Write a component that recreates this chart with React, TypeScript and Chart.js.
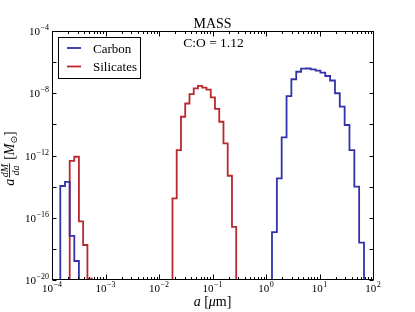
import React, { useEffect, useRef } from 'react';
import { Chart, registerables } from 'chart.js';

Chart.register(...registerables);

// ---- axis ranges ----
const X_MIN = 1e-4;
const X_MAX = 1e2;
const Y_MIN = 1e-20;
const Y_MAX = 1e-4;

// ---- tick exponents ----
const xTickExponents = [-4, -3, -2, -1, 0, 1, 2];
const yTickExponents = [-20, -18, -16, -14, -12, -10, -8, -6, -4];
const yLabelExponents = [-20, -16, -12, -8, -4];

// ---- data: bin edges (log10 a [um]) and values (log10 a dM/da [Msun]) ----
const carbonSmallEdgesLog = [-3.845, -3.757, -3.669, -3.583, -3.497];
const carbonSmallValuesLog = [-13.96, -13.7, -17.16, -18.78];

const silicateSmallEdgesLog = [-3.669, -3.583, -3.497, -3.418, -3.338, -3.258];
const silicateSmallValuesLog = [-12.34, -12.08, -16.23, -17.75, -19.92];

const silicateLargeEdgesLog = [
  -1.748, -1.669, -1.589, -1.51, -1.43, -1.351, -1.272, -1.192, -1.113, -1.033,
  -0.954, -0.874, -0.795, -0.716, -0.636, -0.557,
];
const silicateLargeValuesLog = [
  -14.75, -11.65, -9.51, -8.66, -8.05, -7.69, -7.53, -7.64, -7.77, -8.26, -9.01,
  -9.83, -11.22, -13.3, -16.58,
];

const carbonLargeEdgesLog = [
  0.112, 0.203, 0.293, 0.384, 0.474, 0.565, 0.655, 0.746, 0.836, 0.927, 1.017,
  1.108, 1.198, 1.289, 1.379, 1.47, 1.56, 1.651, 1.741, 1.832,
];
const carbonLargeValuesLog = [
  -16.93, -13.47, -10.83, -8.18, -7.1, -6.62, -6.42, -6.41, -6.47, -6.54, -6.67,
  -6.89, -7.18, -8.0, -8.86, -10.04, -11.65, -14.0, -17.6,
];

const seriesNames = ['Carbon', 'Silicates'];
const BLUE = '#3232aa';
const RED = '#b8282d';

const TITLE = 'MASS';
const NOTE = 'C:O = 1.12';

const SERIF = '"Liberation Serif", "DejaVu Serif", serif';

function toSteps(edgesLog: number[], valuesLog: number[]) {
  const pts: { x: number; y: number }[] = [];
  pts.push({ x: Math.pow(10, edgesLog[0]), y: Y_MIN });
  for (let i = 0; i < valuesLog.length; i++) {
    pts.push({ x: Math.pow(10, edgesLog[i]), y: Math.pow(10, valuesLog[i]) });
  }
  pts.push({ x: Math.pow(10, edgesLog[edgesLog.length - 1]), y: Y_MIN });
  return pts;
}

function expText(e: number) {
  return e < 0 ? '\u2212' + Math.abs(e) : String(e);
}

function drawPower(
  ctx: CanvasRenderingContext2D,
  x: number,
  baseline: number,
  align: 'center' | 'right',
  e: number
) {
  const baseFont = `11px ${SERIF}`;
  const expFont = `8px ${SERIF}`;
  ctx.font = baseFont;
  const wb = ctx.measureText('10').width;
  ctx.font = expFont;
  const es = expText(e);
  const we = ctx.measureText(es).width;
  const w = wb + we + 0.5;
  const sx = align === 'center' ? x - w / 2 : x - w;
  ctx.textAlign = 'left';
  ctx.textBaseline = 'alphabetic';
  ctx.font = baseFont;
  ctx.fillText('10', sx, baseline);
  ctx.font = expFont;
  ctx.fillText(es, sx + wb + 0.5, baseline - 5);
}

const decorPlugin = {
  id: 'decor',
  afterDatasetsDraw(chart: any) {
    const ctx: CanvasRenderingContext2D = chart.ctx;
    const a = chart.chartArea;
    const xs = chart.scales.x;
    const ys = chart.scales.y;
    ctx.save();
    ctx.fillStyle = '#000';
    ctx.strokeStyle = '#000';

    const L = Math.round(a.left) + 0.5;
    const R = Math.round(a.right) + 0.5;
    const T = Math.round(a.top) + 0.5;
    const B = Math.round(a.bottom) - 0.5;

    // frame
    ctx.lineWidth = 1;
    ctx.strokeRect(L, T, R - L, B - T);

    // x ticks (major + minor), inward, top & bottom
    ctx.beginPath();
    for (const e of xTickExponents) {
      const px = Math.round(xs.getPixelForValue(Math.pow(10, e))) + 0.5;
      ctx.moveTo(px, B);
      ctx.lineTo(px, B - 5);
      ctx.moveTo(px, T);
      ctx.lineTo(px, T + 5);
      if (e < xTickExponents[xTickExponents.length - 1]) {
        for (let m = 2; m <= 9; m++) {
          const mx = Math.round(xs.getPixelForValue(m * Math.pow(10, e))) + 0.5;
          ctx.moveTo(mx, B);
          ctx.lineTo(mx, B - 2.5);
          ctx.moveTo(mx, T);
          ctx.lineTo(mx, T + 2.5);
        }
      }
    }
    // y ticks, inward, left & right
    for (const e of yTickExponents) {
      const py = Math.round(ys.getPixelForValue(Math.pow(10, e))) + 0.5;
      ctx.moveTo(L, py);
      ctx.lineTo(L + 4, py);
      ctx.moveTo(R, py);
      ctx.lineTo(R - 4, py);
    }
    ctx.stroke();

    // tick labels
    for (const e of xTickExponents) {
      const px = xs.getPixelForValue(Math.pow(10, e));
      drawPower(ctx, px, a.bottom + 11.5, 'center', e);
    }
    for (const e of yLabelExponents) {
      const py = ys.getPixelForValue(Math.pow(10, e));
      drawPower(ctx, a.left - 3, py + 4, 'right', e);
    }

    // title and note
    const cx = (a.left + a.right) / 2;
    ctx.textAlign = 'center';
    ctx.textBaseline = 'alphabetic';
    ctx.font = `14px ${SERIF}`;
    ctx.fillText(TITLE, cx, a.top - 3.5);
    ctx.font = `13.5px ${SERIF}`;
    ctx.fillText(NOTE, cx + 1, a.top + 16);

    // x axis label: a [μm]
    {
      const parts = [
        { t: 'a', f: `italic 14px ${SERIF}` },
        { t: ' [', f: `14px ${SERIF}` },
        { t: '\u03bc', f: `italic 14px ${SERIF}` },
        { t: 'm]', f: `14px ${SERIF}` },
      ];
      let tw = 0;
      for (const p of parts) {
        ctx.font = p.f;
        tw += ctx.measureText(p.t).width;
      }
      let x0 = cx - tw / 2;
      const by = a.bottom + 26;
      ctx.textAlign = 'left';
      for (const p of parts) {
        ctx.font = p.f;
        ctx.fillText(p.t, x0, by);
        x0 += ctx.measureText(p.t).width;
      }
    }

    // y axis label: a dM/da [M⊙]
    {
      ctx.save();
      const cy = (a.top + a.bottom) / 2 + 3;
      ctx.translate(14, cy);
      ctx.rotate(-Math.PI / 2);
      ctx.textAlign = 'left';
      const fA = `italic 14px ${SERIF}`;
      const fFrac = `italic 10px ${SERIF}`;
      const fR = `14px ${SERIF}`;
      const fSub = `9px "DejaVu Sans", sans-serif`;
      ctx.font = fA;
      const wa = ctx.measureText('a').width;
      ctx.font = fFrac;
      const wn = ctx.measureText('dM').width;
      const wd = ctx.measureText('da').width;
      const wf = Math.max(wn, wd) + 1;
      ctx.font = fR;
      const wb1 = ctx.measureText(' [').width;
      ctx.font = fA;
      const wm = ctx.measureText('M').width;
      ctx.font = fSub;
      const wsun = ctx.measureText('\u2299').width;
      ctx.font = fR;
      const wb2 = ctx.measureText(']').width;
      const total = wa + 1 + wf + wb1 + wm + wsun + wb2;
      let x0 = -total / 2;
      const by = 0;
      ctx.font = fA;
      ctx.fillText('a', x0, by);
      x0 += wa + 1;
      ctx.font = fFrac;
      ctx.fillText('dM', x0 + (wf - wn) / 2, by - 6.5);
      ctx.fillText('da', x0 + (wf - wd) / 2, by + 4.5);
      ctx.fillRect(x0, by - 5, wf, 0.8);
      x0 += wf;
      ctx.font = fR;
      ctx.fillText(' [', x0, by);
      x0 += wb1;
      ctx.font = fA;
      ctx.fillText('M', x0, by);
      x0 += wm;
      ctx.font = fSub;
      ctx.fillText('\u2299', x0, by + 3);
      x0 += wsun;
      ctx.font = fR;
      ctx.fillText(']', x0, by);
      ctx.restore();
    }

    // legend
    {
      const lx = 58.5;
      const ly = 37.5;
      const lw = 82;
      const lh = 41;
      ctx.fillStyle = '#fff';
      ctx.fillRect(lx, ly, lw, lh);
      ctx.strokeStyle = '#000';
      ctx.lineWidth = 1;
      ctx.strokeRect(lx, ly, lw, lh);
      const colors = [BLUE, RED];
      const rows = [48, 66.5];
      for (let i = 0; i < seriesNames.length; i++) {
        ctx.strokeStyle = colors[i];
        ctx.lineWidth = 1.8;
        ctx.beginPath();
        ctx.moveTo(67, rows[i]);
        ctx.lineTo(81, rows[i]);
        ctx.stroke();
        ctx.fillStyle = '#000';
        ctx.font = `13px ${SERIF}`;
        ctx.textAlign = 'left';
        ctx.textBaseline = 'alphabetic';
        ctx.fillText(seriesNames[i], 93, rows[i] + 4.5);
      }
    }
    ctx.restore();
  },
};

export default function App() {
  const canvasRef = useRef<HTMLCanvasElement | null>(null);

  useEffect(() => {
    const canvas = canvasRef.current;
    if (!canvas) return;
    const common = {
      pointRadius: 0,
      borderWidth: 1.8,
      stepped: 'before' as const,
      fill: false,
      tension: 0,
    };
    const chart = new Chart(canvas, {
      type: 'line',
      data: {
        datasets: [
          { ...common, label: seriesNames[0], borderColor: BLUE, data: toSteps(carbonSmallEdgesLog, carbonSmallValuesLog) },
          { ...common, label: seriesNames[1], borderColor: RED, data: toSteps(silicateSmallEdgesLog, silicateSmallValuesLog) },
          { ...common, label: seriesNames[1], borderColor: RED, data: toSteps(silicateLargeEdgesLog, silicateLargeValuesLog) },
          { ...common, label: seriesNames[0], borderColor: BLUE, data: toSteps(carbonLargeEdgesLog, carbonLargeValuesLog) },
        ],
      },
      options: {
        responsive: false,
        animation: false,
        devicePixelRatio: 1,
        parsing: false as any,
        normalized: true,
        layout: { padding: { left: 52, top: 31, right: 42, bottom: 32 } },
        plugins: {
          legend: { display: false },
          title: { display: false },
          tooltip: { enabled: false },
        },
        scales: {
          x: { type: 'logarithmic', min: X_MIN, max: X_MAX, display: false },
          y: { type: 'logarithmic', min: Y_MIN, max: Y_MAX, display: false },
        },
      },
      plugins: [decorPlugin],
    });
    return () => chart.destroy();
  }, []);

  return (
    <div style={{ position: 'fixed', left: 0, top: 0, width: 415, height: 312, background: '#fff' }}>
      <canvas ref={canvasRef} width={415} height={312} style={{ display: 'block' }} />
    </div>
  );
}
